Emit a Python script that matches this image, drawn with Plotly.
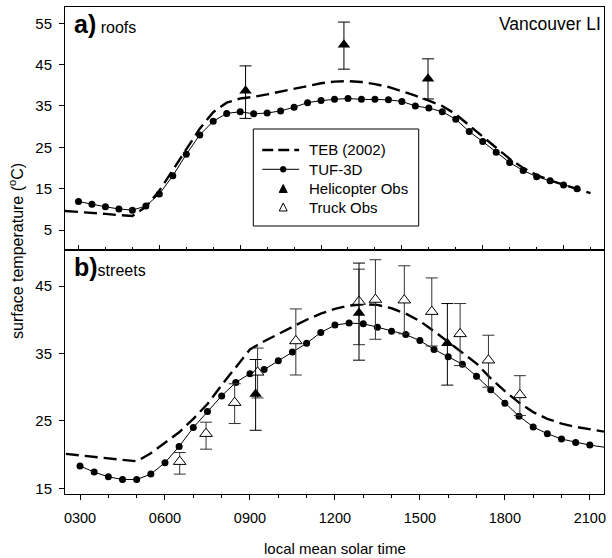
import plotly.graph_objects as go

# ---------------- data ----------------
# local mean solar time (decimal hours)
t_tuf_roof = [3.0, 3.5, 4.0, 4.5, 5.0, 5.5, 6.0, 6.5, 7.0, 7.5, 8.0, 8.5, 9.0, 9.5,
              10.0, 10.5, 11.0, 11.5, 12.0, 12.5, 13.0, 13.5, 14.0, 14.5, 15.0, 15.5,
              16.0, 16.5, 17.0, 17.5, 18.0, 18.5, 19.0, 19.5, 20.0, 20.5, 21.0, 21.5]
tuf_roof = [11.9, 11.2, 10.6, 10.1, 9.8, 10.8, 13.7, 18.1, 23.3, 28.0, 31.3, 33.2, 33.6, 33.1,
            33.3, 33.8, 34.7, 35.8, 36.3, 36.6, 36.8, 36.6, 36.6, 36.5, 36.1, 35.0,
            34.5, 33.6, 31.8, 28.8, 26.4, 23.8, 21.3, 19.4, 17.9, 16.9, 15.9, 15.0]

t_teb_roof = [2.5, 3.0, 3.5, 4.0, 4.5, 5.0, 5.5, 6.0, 6.5, 7.0, 7.5, 8.0, 8.5, 9.0, 9.5,
              10.0, 10.5, 11.0, 11.5, 12.0, 12.5, 13.0, 13.5, 14.0, 14.5, 15.0, 15.5,
              16.0, 16.5, 17.0, 17.5, 18.0, 18.5, 19.0, 19.5, 20.0, 20.5, 21.0, 21.5, 22.0]
teb_roof = [9.6, 9.4, 9.1, 8.9, 8.6, 8.4, 10.6, 14.5, 19.5, 24.5, 29.5, 33.5, 35.8, 36.8, 37.2,
            37.8, 38.5, 39.2, 39.9, 40.5, 40.9, 41.0, 40.8, 40.3, 39.6, 38.6, 37.5,
            36.3, 35.0, 33.0, 30.3, 27.6, 24.8, 22.2, 20.0, 18.3, 17.0, 15.9, 14.9, 13.9]

t_heli_roof = [9.2, 12.85, 15.97]
heli_roof = [38.7, 49.8, 41.6]
heli_roof_plus = [6.0, 5.5, 4.8]
heli_roof_minus = [6.7, 5.9, 4.9]

t_tuf_street = [3.0, 3.5, 4.0, 4.5, 5.0, 5.5, 6.0, 6.5, 7.0, 7.5, 8.0, 8.5, 9.0, 9.5,
                10.0, 10.5, 11.0, 11.5, 12.0, 12.5, 13.0, 13.5, 14.0, 14.5, 15.0, 15.5,
                16.0, 16.5, 17.0, 17.5, 18.0, 18.5, 19.0, 19.5, 20.0, 20.5, 21.0, 21.5]
tuf_street = [18.3, 17.4, 16.7, 16.3, 16.3, 17.1, 18.8, 21.2, 24.0, 26.4, 28.7, 30.7, 32.0, 32.6,
              33.9, 35.2, 36.5, 38.1, 39.2, 39.5, 39.4, 38.9, 38.3, 37.8, 36.9, 35.6,
              34.5, 33.4, 31.6, 29.6, 27.6, 25.7, 24.1, 23.1, 22.3, 21.8, 21.4, 21.1]

t_teb_street = [2.5, 3.0, 3.5, 4.0, 4.5, 5.0, 5.5, 6.0, 6.5, 7.0, 7.5, 8.0, 8.5, 9.0, 9.5,
                10.0, 10.5, 11.0, 11.5, 12.0, 12.5, 13.0, 13.5, 14.0, 14.5, 15.0, 15.5,
                16.0, 16.5, 17.0, 17.5, 18.0, 18.5, 19.0, 19.5, 20.0, 20.5, 21.0, 21.5]
teb_street = [20.1, 19.9, 19.7, 19.5, 19.3, 19.0, 20.2, 21.7, 23.3, 25.3, 27.5, 30.3, 33.0, 35.6, 36.8,
              37.9, 39.0, 40.0, 40.9, 41.6, 42.1, 42.3, 42.2, 41.7, 40.9, 39.8, 38.3,
              36.7, 35.2, 33.5, 31.3, 29.4, 27.7, 26.3, 25.3, 24.6, 24.1, 23.7, 23.4]

t_heli_street = [9.2, 12.85, 15.97]
heli_street = [29.0, 41.0, 36.5]
heli_street_plus = [5.1, 7.4, 5.9]
heli_street_minus = [5.4, 7.0, 6.2]

t_truck_street = [6.52, 7.45, 8.46, 9.27, 10.62, 12.85, 13.43, 14.45, 15.42, 16.42, 17.42, 18.53]
truck_street = [18.95, 23.1, 27.7, 32.2, 36.85, 42.7, 43.0, 42.9, 41.2, 37.9, 34.0, 28.85]
truck_street_plus = [1.35, 1.7, 2.8, 3.6, 4.75, 4.8, 5.9, 5.1, 5.0, 4.5, 3.7, 2.85]
truck_street_minus = [1.85, 2.3, 3.1, 3.8, 5.05, 6.4, 5.9, 5.0, 5.1, 4.7, 4.0, 3.05]

time_ticks = [3, 6, 9, 12, 15, 18, 21]
time_labels = ["0300", "0600", "0900", "1200", "1500", "1800", "2100"]
hour_ticks_roof = [4, 5, 7, 8, 10, 11, 13, 14, 16, 17, 19, 20, 22]
hour_ticks_street = [4, 5, 7, 8, 10, 11, 13, 14, 16, 17, 19, 20]
roof_yticks = [5, 15, 25, 35, 45, 55]
street_yticks = [15, 25, 35, 45]

legend_names = ["TEB (2002)", "TUF-3D", "Helicopter Obs", "Truck Obs"]

# ---------------- figure ----------------
FONT = "Liberation Sans, Arial, Helvetica, sans-serif"
W, H = 612, 558
ML, MR, MT, MB = 65, 6, 7, 64
teb_line = dict(color="black", width=2.4, dash="13px,6px")
tuf_line = dict(color="black", width=1)
tri_size = 11

fig = go.Figure()

# a) roofs
fig.add_trace(go.Scatter(x=t_teb_roof, y=teb_roof, mode="lines", line=teb_line,
                         name=legend_names[0], xaxis="x", yaxis="y"))
fig.add_trace(go.Scatter(x=t_tuf_roof, y=tuf_roof, mode="lines+markers", line=tuf_line,
                         marker=dict(symbol="circle", size=7, color="black"),
                         name=legend_names[1], xaxis="x", yaxis="y"))
fig.add_trace(go.Scatter(x=t_heli_roof, y=heli_roof, mode="markers",
                         marker=dict(symbol="triangle-up", size=tri_size, color="black"),
                         error_y=dict(type="data", symmetric=False, array=heli_roof_plus,
                                      arrayminus=heli_roof_minus, color="black",
                                      thickness=1, width=6),
                         name=legend_names[2], xaxis="x", yaxis="y"))

# b) streets
fig.add_trace(go.Scatter(x=t_teb_street, y=teb_street, mode="lines", line=teb_line,
                         name=legend_names[0], xaxis="x2", yaxis="y2"))
fig.add_trace(go.Scatter(x=t_tuf_street[-2:], y=tuf_street[-2:], mode="lines", line=tuf_line,
                         name=legend_names[1], xaxis="x2", yaxis="y2"))
fig.add_trace(go.Scatter(x=t_tuf_street[:-1], y=tuf_street[:-1], mode="lines+markers",
                         line=tuf_line, marker=dict(symbol="circle", size=7, color="black"),
                         name=legend_names[1], xaxis="x2", yaxis="y2"))
fig.add_trace(go.Scatter(x=t_truck_street, y=truck_street, mode="markers",
                         marker=dict(symbol="triangle-up", size=tri_size, color="white",
                                     line=dict(color="black", width=1)),
                         error_y=dict(type="data", symmetric=False, array=truck_street_plus,
                                      arrayminus=truck_street_minus, color="#333333",
                                      thickness=1, width=6),
                         name=legend_names[3], xaxis="x2", yaxis="y2"))
fig.add_trace(go.Scatter(x=t_heli_street, y=heli_street, mode="markers",
                         marker=dict(symbol="triangle-up", size=tri_size, color="black"),
                         error_y=dict(type="data", symmetric=False, array=heli_street_plus,
                                      arrayminus=heli_street_minus, color="black",
                                      thickness=1, width=6),
                         name=legend_names[2], xaxis="x2", yaxis="y2"))

axis_common = dict(showline=True, linecolor="black", linewidth=1, mirror=True,
                   showgrid=False, zeroline=False)
xtick_font = dict(family=FONT, size=14.5, color="black")
ytick_font = dict(family=FONT, size=15, color="black")

fig.update_layout(
    width=W, height=H,
    margin=dict(l=ML, r=MR, t=MT, b=MB),
    paper_bgcolor="white", plot_bgcolor="white",
    font=dict(family=FONT, color="black"),
    showlegend=False,
    xaxis=dict(domain=[0, 1], anchor="y", range=[2.5, 22.5],
               tickmode="array", tickvals=time_ticks, showticklabels=False,
               ticks="inside", ticklen=5, tickcolor="black", tickfont=xtick_font,
               minor=dict(tickmode="array", tickvals=hour_ticks_roof, ticks="inside",
                          ticklen=3, tickcolor="black"),
               **axis_common),
    yaxis=dict(domain=[0.501, 1], anchor="x", range=[0.16, 58.94],
               tickmode="array", tickvals=roof_yticks, tickfont=ytick_font,
               ticks="outside", ticklen=5, tickcolor="black", ticklabelstandoff=4,
               **axis_common),
    xaxis2=dict(domain=[0, 1], anchor="y2", range=[2.47, 21.5],
                tickmode="array", tickvals=time_ticks, ticktext=time_labels,
                tickfont=xtick_font,
                ticks="outside", ticklen=5, tickcolor="black", ticklabelstandoff=6,
                minor=dict(tickmode="array", tickvals=hour_ticks_street, ticks="outside",
                           ticklen=3, tickcolor="black"),
                **axis_common),
    yaxis2=dict(domain=[0, 0.501], anchor="x2", range=[14.15, 50.34],
                tickmode="array", tickvals=street_yticks, tickfont=ytick_font,
                ticks="outside", ticklen=5, tickcolor="black", ticklabelstandoff=4,
                **axis_common),
)


# ---------------- key box (laid out in page pixels, converted to paper units) ----------------
def px(x):
    return (x - ML) / (W - ML - MR)


def py(y):
    return (H - MB - y) / (H - MT - MB)


box_left, box_right, box_top, box_bottom = 254, 420, 129, 226
row_y = [150, 169.3, 188.5, 207]
key_x0, key_x1, key_mid, text_x = 263, 300, 284, 308

shapes = [
    dict(type="rect", xref="paper", yref="paper", layer="above",
         x0=px(box_left), x1=px(box_right), y0=py(box_bottom), y1=py(box_top),
         line=dict(color="black", width=1), fillcolor="white"),
    dict(type="line", xref="paper", yref="paper", layer="above",
         x0=px(key_x0), x1=px(key_x1), y0=py(row_y[0]), y1=py(row_y[0]),
         line=dict(color="black", width=2.4, dash="11px,5px")),
    dict(type="line", xref="paper", yref="paper", layer="above",
         x0=px(key_x0), x1=px(key_x1), y0=py(row_y[1]), y1=py(row_y[1]),
         line=dict(color="black", width=1)),
    dict(type="circle", xref="paper", yref="paper", layer="above",
         x0=px(key_mid - 3), x1=px(key_mid + 3), y0=py(row_y[1] + 3), y1=py(row_y[1] - 3),
         line=dict(color="black", width=0.5), fillcolor="black"),
]


def triangle_path(cx, cy, half_w=4, h=8):
    pts = [(cx - half_w, cy + h / 2), (cx + half_w, cy + h / 2), (cx, cy - h / 2)]
    return "M " + " L ".join(f"{px(a):.5f},{py(b):.5f}" for a, b in pts) + " Z"


shapes.append(dict(type="path", xref="paper", yref="paper", layer="above",
                   path=triangle_path(key_mid, row_y[2]),
                   line=dict(color="black", width=1), fillcolor="black"))
shapes.append(dict(type="path", xref="paper", yref="paper", layer="above",
                   path=triangle_path(key_mid, row_y[3]),
                   line=dict(color="black", width=1), fillcolor="white"))
fig.update_layout(shapes=shapes)

annotations = [
    dict(text=name, xref="paper", yref="paper", x=px(text_x), y=py(yy),
         xanchor="left", yanchor="middle", showarrow=False,
         font=dict(family=FONT, size=15, color="black"))
    for name, yy in zip(legend_names, row_y)
]
annotations += [
    dict(text="<b>a)</b><span style='font-size:16px'> roofs</span>",
         xref="paper", yref="paper", x=0.013, y=0.998, xanchor="left", yanchor="top",
         showarrow=False, font=dict(family=FONT, size=25, color="black")),
    dict(text="<b>b)</b><span style='font-size:16px'>streets</span>",
         xref="paper", yref="paper", x=0.013, y=0.499, xanchor="left", yanchor="top",
         showarrow=False, font=dict(family=FONT, size=25, color="black")),
    dict(text="Vancouver LI", xref="paper", yref="paper", x=0.999, y=0.99,
         xanchor="right", yanchor="top", showarrow=False,
         font=dict(family=FONT, size=17.5, color="black")),
    dict(text="surface temperature (<sup>o</sup>C)", xref="paper", yref="paper",
         x=-0.092, y=0.5, xanchor="center", yanchor="middle", textangle=-90,
         showarrow=False, font=dict(family=FONT, size=16, color="black")),
    dict(text="local mean solar time", xref="paper", yref="paper",
         x=0.5, y=-0.111, xanchor="center", yanchor="middle",
         showarrow=False, font=dict(family=FONT, size=15, color="black")),
]
fig.update_layout(annotations=annotations)

fig.write_html("out.html")
